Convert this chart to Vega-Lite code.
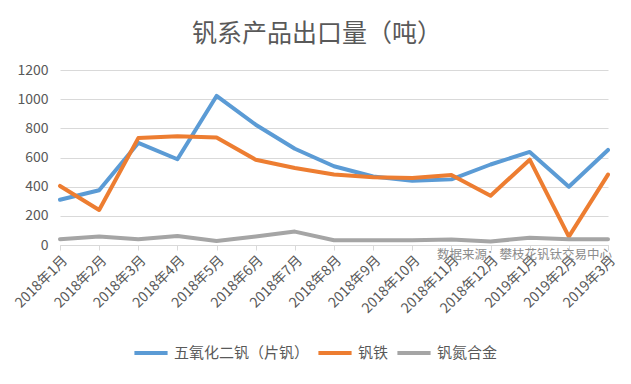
{
  "$schema": "https://vega.github.io/schema/vega-lite/v6.json",
  "width": 548,
  "height": 175,
  "autosize": {"type": "none"},
  "padding": {"left": 60, "top": 70, "right": 23, "bottom": 139},
  "background": "white",
  "title": {
    "text": "钒系产品出口量（吨）",
    "font": "Noto Sans CJK SC",
    "fontSize": 25,
    "fontWeight": "normal",
    "color": "#595959",
    "anchor": "middle",
    "offset": 16,
    "dx": -17
  },
  "config": {
    "view": {"stroke": null},
    "font": "Noto Sans CJK SC"
  },
  "resolve": {"axis": {"x": "independent", "y": "independent"}},
  "data": {
    "values": [
      {"month": "2018年1月", "series": "五氧化二钒（片钒）", "value": 310},
      {"month": "2018年2月", "series": "五氧化二钒（片钒）", "value": 375},
      {"month": "2018年3月", "series": "五氧化二钒（片钒）", "value": 700},
      {"month": "2018年4月", "series": "五氧化二钒（片钒）", "value": 588},
      {"month": "2018年5月", "series": "五氧化二钒（片钒）", "value": 1022},
      {"month": "2018年6月", "series": "五氧化二钒（片钒）", "value": 825},
      {"month": "2018年7月", "series": "五氧化二钒（片钒）", "value": 660},
      {"month": "2018年8月", "series": "五氧化二钒（片钒）", "value": 540},
      {"month": "2018年9月", "series": "五氧化二钒（片钒）", "value": 470},
      {"month": "2018年10月", "series": "五氧化二钒（片钒）", "value": 440},
      {"month": "2018年11月", "series": "五氧化二钒（片钒）", "value": 450},
      {"month": "2018年12月", "series": "五氧化二钒（片钒）", "value": 552},
      {"month": "2019年1月", "series": "五氧化二钒（片钒）", "value": 638},
      {"month": "2019年2月", "series": "五氧化二钒（片钒）", "value": 400},
      {"month": "2019年3月", "series": "五氧化二钒（片钒）", "value": 652},
      {"month": "2018年1月", "series": "钒铁", "value": 405},
      {"month": "2018年2月", "series": "钒铁", "value": 240},
      {"month": "2018年3月", "series": "钒铁", "value": 733},
      {"month": "2018年4月", "series": "钒铁", "value": 745},
      {"month": "2018年5月", "series": "钒铁", "value": 737},
      {"month": "2018年6月", "series": "钒铁", "value": 585},
      {"month": "2018年7月", "series": "钒铁", "value": 528},
      {"month": "2018年8月", "series": "钒铁", "value": 483},
      {"month": "2018年9月", "series": "钒铁", "value": 465},
      {"month": "2018年10月", "series": "钒铁", "value": 460},
      {"month": "2018年11月", "series": "钒铁", "value": 480},
      {"month": "2018年12月", "series": "钒铁", "value": 338},
      {"month": "2019年1月", "series": "钒铁", "value": 585},
      {"month": "2019年2月", "series": "钒铁", "value": 57},
      {"month": "2019年3月", "series": "钒铁", "value": 483},
      {"month": "2018年1月", "series": "钒氮合金", "value": 40},
      {"month": "2018年2月", "series": "钒氮合金", "value": 58},
      {"month": "2018年3月", "series": "钒氮合金", "value": 40},
      {"month": "2018年4月", "series": "钒氮合金", "value": 62},
      {"month": "2018年5月", "series": "钒氮合金", "value": 28},
      {"month": "2018年6月", "series": "钒氮合金", "value": 58},
      {"month": "2018年7月", "series": "钒氮合金", "value": 92},
      {"month": "2018年8月", "series": "钒氮合金", "value": 33},
      {"month": "2018年9月", "series": "钒氮合金", "value": 33},
      {"month": "2018年10月", "series": "钒氮合金", "value": 33},
      {"month": "2018年11月", "series": "钒氮合金", "value": 38},
      {"month": "2018年12月", "series": "钒氮合金", "value": 24},
      {"month": "2019年1月", "series": "钒氮合金", "value": 50},
      {"month": "2019年2月", "series": "钒氮合金", "value": 40},
      {"month": "2019年3月", "series": "钒氮合金", "value": 40}
    ]
  },
  "layer": [
    {
      "mark": {"type": "line", "strokeWidth": 4, "strokeJoin": "round", "strokeCap": "round"},
      "encoding": {
        "x": {
          "field": "month",
          "type": "ordinal",
          "sort": null,
          "scale": {"type": "point", "padding": 0},
          "axis": {
            "title": null,
            "labelAngle": -45,
            "labelFontSize": 14,
            "labelColor": "#595959",
            "domainColor": "#D9D9D9",
            "tickColor": "#D9D9D9",
            "tickSize": 5,
            "labelPadding": 3,
            "grid": false
          }
        },
        "y": {
          "field": "value",
          "type": "quantitative",
          "scale": {"domain": [0, 1200], "nice": false},
          "axis": {
            "title": null,
            "values": [0, 200, 400, 600, 800, 1000, 1200],
            "format": "d",
            "labelOverlap": false,
            "domain": false,
            "ticks": false,
            "labelPadding": 12,
            "labelFontSize": 14,
            "labelColor": "#595959",
            "gridColor": "#D9D9D9",
            "gridWidth": 1
          }
        },
        "color": {
          "field": "series",
          "type": "nominal",
          "scale": {
            "domain": ["五氧化二钒（片钒）", "钒铁", "钒氮合金"],
            "range": ["#5B9BD5", "#ED7D31", "#A5A5A5"]
          },
          "legend": {
            "title": null,
            "orient": "none",
            "legendX": 72,
            "legendY": 264,
            "direction": "horizontal",
            "symbolType": "stroke",
            "symbolSize": 1100,
            "symbolStrokeWidth": 4,
            "labelFontSize": 15,
            "labelColor": "#595959",
            "labelOffset": 4,
            "columnPadding": 0
          }
        }
      }
    },
    {
      "data": {"values": [{}]},
      "mark": {"type": "text", "align": "right", "baseline": "middle", "dy": 10, "dx": 4, "fontSize": 12.5, "color": "#8C8C8C"},
      "encoding": {
        "x": {"datum": "2019年3月", "axis": null},
        "y": {"datum": 0, "axis": null},
        "text": {"value": "数据来源：攀枝花钒钛交易中心"}
      }
    }
  ]
}
